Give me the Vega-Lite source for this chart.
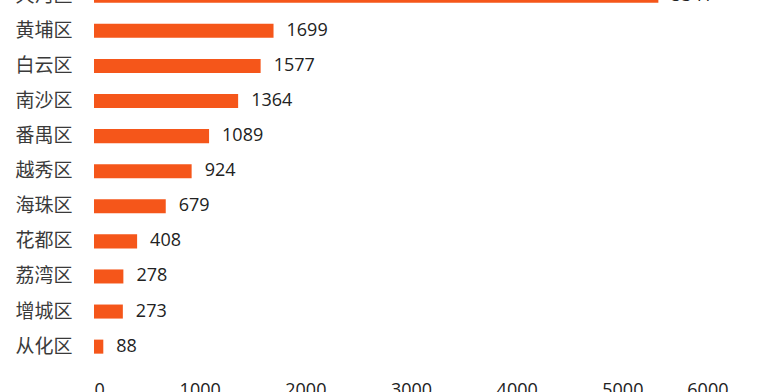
{
  "$schema": "https://vega.github.io/schema/vega-lite/v6.json",
  "width": 634,
  "height": 400,
  "autosize": {"type": "none"},
  "padding": {"top": -28.8, "left": 94, "right": 51, "bottom": 20.8},
  "background": "#ffffff",
  "config": {"view": {"stroke": null}},
  "data": {"values": [
    {"district": "天河区", "value": 5341},
    {"district": "黄埔区", "value": 1699},
    {"district": "白云区", "value": 1577},
    {"district": "南沙区", "value": 1364},
    {"district": "番禺区", "value": 1089},
    {"district": "越秀区", "value": 924},
    {"district": "海珠区", "value": 679},
    {"district": "花都区", "value": 408},
    {"district": "荔湾区", "value": 278},
    {"district": "增城区", "value": 273},
    {"district": "从化区", "value": 88}
  ]},
  "encoding": {
    "y": {
      "field": "district", "type": "nominal", "sort": null,
      "scale": {"paddingInner": 0.6, "paddingOuter": 0.5},
      "axis": {"title": null, "domain": false, "ticks": false, "tickSize": 0, "labelPadding": 22,
               "labelFont": "Noto Sans CJK SC", "labelFontSize": 19, "labelColor": "#3a3a3a", "grid": false}
    },
    "x": {
      "field": "value", "type": "quantitative",
      "scale": {"domain": [0, 6000], "nice": false},
      "axis": {"title": null, "domain": false, "ticks": false, "tickSize": 0, "grid": false,
               "values": [0, 1000, 2000, 3000, 4000, 5000, 6000], "format": "d",
               "labelPadding": 10, "labelFont": "Open Sans", "labelFontSize": 18, "labelColor": "#222222"}
    }
  },
  "layer": [
    {"mark": {"type": "bar", "color": "#F5561A"}},
    {"mark": {"type": "text", "align": "left", "baseline": "middle", "dx": 13, "font": "Open Sans", "fontSize": 18, "color": "#222222"},
     "encoding": {"text": {"field": "value", "type": "quantitative", "format": "d"}}}
  ]
}
